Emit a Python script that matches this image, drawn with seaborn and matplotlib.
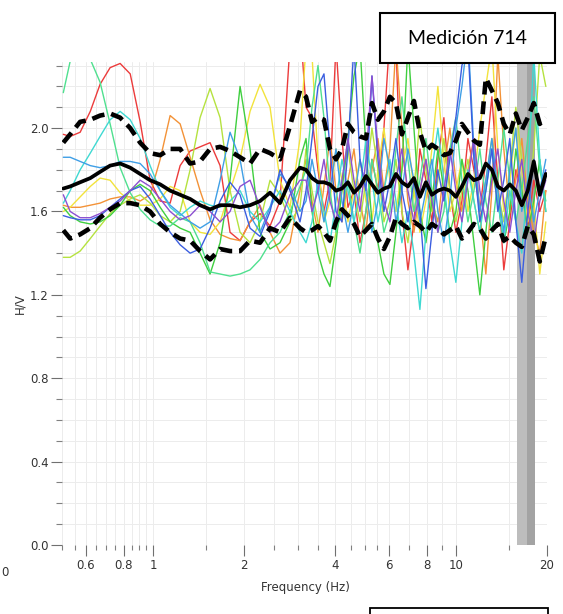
import numpy as np
import pandas as pd
import matplotlib
matplotlib.use("Agg")
import matplotlib.pyplot as plt
import seaborn as sns
from matplotlib.patches import Rectangle
from matplotlib.ticker import FixedLocator, FixedFormatter, NullFormatter

# ---------------- data ----------------
freq = [0.505, 0.532, 0.574, 0.620, 0.668, 0.721, 0.778, 0.840, 0.906, 0.977,
        1.055, 1.138, 1.228, 1.325, 1.429, 1.542, 1.664, 1.795, 1.937, 2.090,
        2.255, 2.433, 2.625, 2.832, 3.056,
        3.199, 3.348, 3.504, 3.667, 3.838, 4.018, 4.205, 4.401, 4.607, 4.822,
        5.047, 5.282, 5.528, 5.786, 6.056, 6.339, 6.634, 6.944, 7.268, 7.607,
        7.962, 8.333, 8.722, 9.129, 9.555, 10.00, 10.47, 10.96, 11.47, 12.00,
        12.56, 13.15, 13.76, 14.40, 15.07, 15.78, 16.51, 17.28, 18.09, 18.93, 19.82]

hv_red = [1.97, 1.96, 1.98, 2.08, 2.21, 2.29, 2.31, 2.26, 2.03, 1.75, 1.65, 1.64, 1.82, 1.89, 1.91, 1.93, 1.82, 1.50, 1.46, 1.55, 1.59, 1.53, 1.65, 2.40, 2.50,
          2.10, 2.05, 1.80, 1.60, 1.75, 2.40, 1.95, 1.62, 1.70, 1.45, 1.60, 1.85, 1.70, 2.00, 2.45, 2.40, 1.60, 1.32, 1.55, 1.90,
          1.75, 1.55, 1.85, 2.05, 1.70, 1.50, 1.65, 1.95, 1.80, 1.60, 1.85, 2.15, 1.75, 1.32, 1.55, 1.80, 1.70, 1.52, 1.75, 1.60, 1.70]
hv_orange = [1.63, 1.62, 1.62, 1.63, 1.64, 1.66, 1.67, 1.67, 1.65, 1.68, 1.85, 2.06, 2.02, 1.86, 1.70, 1.56, 1.49, 1.47, 1.46, 1.55, 1.63, 1.50, 1.40, 1.45, 1.70,
             1.85, 1.65, 1.50, 1.72, 1.95, 1.70, 1.55, 1.75, 1.90, 1.65, 1.50, 1.80, 1.95, 1.70, 1.90, 2.40, 2.00, 1.65, 1.50, 1.70,
             1.85, 1.65, 1.55, 1.80, 2.00, 1.75, 1.60, 1.80, 1.95, 1.60, 1.30, 1.70, 2.35, 1.90, 1.60, 1.75, 1.95, 1.65, 1.50, 1.40, 1.70]
hv_yellow = [1.60, 1.62, 1.67, 1.72, 1.76, 1.75, 1.69, 1.65, 1.63, 1.63, 1.66, 1.72, 1.70, 1.55, 1.50, 1.49, 1.55, 1.70, 1.85, 2.08, 2.21, 2.10, 1.75, 1.62, 1.95,
             2.40, 2.35, 1.85, 1.55, 1.65, 1.90, 1.75, 1.55, 1.70, 1.85, 1.65, 1.55, 1.80, 2.00, 1.75, 1.60, 1.80, 1.95, 1.70, 1.50,
             1.65, 1.90, 2.20, 1.85, 1.60, 1.70, 1.85, 1.60, 1.75, 2.00, 2.20, 2.40, 1.90, 1.60, 1.75, 2.00, 1.80, 1.55, 1.65, 1.30, 1.55]
hv_ygreen = [1.38, 1.38, 1.41, 1.47, 1.53, 1.59, 1.63, 1.66, 1.68, 1.64, 1.58, 1.55, 1.60, 1.80, 2.05, 2.19, 2.05, 1.70, 1.50, 1.45, 1.55, 1.75, 1.68, 1.55, 1.62,
             1.90, 1.70, 1.55, 1.45, 1.35, 1.50, 1.75, 1.90, 1.70, 1.55, 1.75, 2.00, 1.80, 1.55, 1.65, 1.85, 1.60, 1.45, 1.70, 2.05,
             1.80, 1.60, 1.75, 1.95, 1.70, 1.55, 1.70, 1.85, 1.65, 1.50, 1.75, 1.95, 1.70, 1.55, 1.80, 2.10, 1.85, 1.60, 1.90, 2.35, 2.20]
hv_green = [1.62, 1.58, 1.55, 1.54, 1.55, 1.58, 1.63, 1.70, 1.73, 1.70, 1.62, 1.55, 1.52, 1.50, 1.40, 1.30, 1.45, 1.75, 2.20, 1.90, 1.50, 1.42, 1.45, 1.55, 1.85,
            1.95, 1.60, 1.40, 1.30, 1.24, 1.45, 1.70, 1.95, 2.25, 2.40, 1.90, 1.55, 1.45, 1.30, 1.25, 1.50, 1.80, 2.40, 2.00, 1.60,
            1.45, 1.65, 1.90, 1.70, 1.50, 1.60, 1.85, 1.70, 1.45, 1.20, 1.50, 1.80, 1.65, 1.45, 1.60, 1.90, 1.70, 1.50, 1.65, 1.85, 1.60]
hv_mint = [2.17, 2.32, 2.42, 2.33, 2.22, 2.02, 1.81, 1.69, 1.61, 1.56, 1.53, 1.53, 1.57, 1.55, 1.45, 1.31, 1.30, 1.29, 1.30, 1.32, 1.37, 1.45, 1.50, 1.60, 1.72,
           1.80, 2.10, 2.30, 2.05, 1.70, 1.50, 1.60, 1.75, 1.55, 1.40, 1.60, 1.85, 1.70, 1.50, 1.60, 1.90, 2.15, 1.85, 1.60, 1.75,
           1.95, 1.70, 1.50, 1.60, 1.90, 2.05, 1.75, 1.55, 1.70, 1.90, 1.65, 1.50, 1.75, 2.00, 1.75, 1.55, 1.70, 1.95, 2.15, 1.80, 1.65]
hv_cyan = [1.64, 1.70, 1.80, 1.88, 1.96, 2.04, 2.08, 2.04, 1.95, 1.82, 1.70, 1.62, 1.58, 1.62, 1.65, 1.63, 1.62, 1.65, 1.70, 1.60, 1.55, 1.62, 1.70, 1.60, 1.50,
           1.45, 1.55, 1.75, 1.60, 1.45, 1.65, 1.85, 1.70, 1.55, 1.70, 1.95, 1.75, 1.55, 1.70, 1.85, 1.65, 1.45, 1.60, 1.40, 1.13,
           1.50, 1.80, 2.00, 1.75, 1.45, 1.26, 1.55, 1.80, 1.65, 1.50, 1.70, 1.90, 1.65, 1.45, 1.70, 1.55, 1.40, 1.75, 2.35, 1.85, 1.60]
hv_skyblue = [1.86, 1.86, 1.84, 1.82, 1.81, 1.82, 1.84, 1.84, 1.83, 1.78, 1.70, 1.63, 1.59, 1.55, 1.52, 1.55, 1.75, 1.98, 1.85, 1.58, 1.50, 1.62, 1.78, 1.72, 1.60,
              1.65, 1.85, 1.70, 1.55, 1.70, 1.90, 1.65, 1.50, 1.65, 1.85, 1.70, 1.50, 1.65, 1.95, 1.80, 1.55, 1.70, 1.90, 1.75, 1.55,
              1.70, 1.85, 1.60, 1.45, 1.65, 2.00, 2.20, 2.45, 1.90, 1.60, 1.75, 1.95, 1.70, 1.50, 1.80, 2.00, 1.60, 1.75, 1.55, 1.70, 1.85]
hv_blue = [1.58, 1.57, 1.56, 1.56, 1.58, 1.62, 1.66, 1.70, 1.72, 1.66, 1.58, 1.50, 1.44, 1.40, 1.42, 1.52, 1.65, 1.74, 1.68, 1.52, 1.48, 1.60, 1.80, 1.70, 1.55,
           1.70, 1.95, 2.20, 2.26, 1.90, 1.60, 1.55, 1.90, 2.40, 1.85, 1.70, 2.25, 1.85, 1.60, 1.75, 1.95, 1.70, 1.55, 1.75, 1.60,
           1.23, 1.50, 1.80, 1.65, 1.85, 2.05, 2.30, 2.40, 1.85, 1.55, 1.70, 1.90, 1.60, 1.75, 1.95, 1.55, 1.26, 1.60, 1.85, 1.70, 1.80]
hv_purple = [1.68, 1.60, 1.57, 1.57, 1.59, 1.62, 1.65, 1.70, 1.75, 1.72, 1.66, 1.60, 1.56, 1.58, 1.63, 1.60, 1.55, 1.60, 1.72, 1.75, 1.62, 1.50, 1.55, 1.68, 1.75,
             1.75, 1.60, 1.70, 1.85, 1.65, 1.55, 1.75, 1.95, 1.75, 1.60, 1.85, 2.25, 1.90, 1.65, 1.55, 1.75, 1.90, 1.70, 1.55, 1.70,
             1.85, 1.65, 1.50, 1.70, 1.90, 1.70, 1.55, 1.75, 1.95, 1.70, 1.55, 1.75, 1.90, 1.65, 1.50, 1.70, 1.85, 1.60, 1.45, 1.65, 1.75]

hv_mean = [1.71, 1.72, 1.74, 1.76, 1.79, 1.82, 1.83, 1.81, 1.78, 1.75, 1.73, 1.70, 1.68, 1.66, 1.63, 1.61, 1.63, 1.63, 1.62, 1.63, 1.65, 1.69, 1.64, 1.75, 1.81,
           1.80, 1.76, 1.74, 1.74, 1.73, 1.70, 1.71, 1.74, 1.69, 1.72, 1.77, 1.73, 1.69, 1.71, 1.72, 1.78, 1.74, 1.72, 1.76, 1.67,
           1.74, 1.68, 1.70, 1.71, 1.70, 1.67, 1.72, 1.78, 1.75, 1.76, 1.83, 1.80, 1.72, 1.70, 1.73, 1.70, 1.63, 1.70, 1.84, 1.68, 1.78]
hv_upper = [1.93, 1.97, 2.03, 2.04, 2.06, 2.07, 2.05, 2.00, 1.93, 1.88, 1.87, 1.90, 1.90, 1.83, 1.84, 1.90, 1.91, 1.89, 1.86, 1.83, 1.90, 1.88, 1.85, 2.01, 2.18,
            2.15, 2.03, 2.05, 2.04, 1.90, 1.85, 1.90, 2.02, 1.98, 1.96, 1.95, 2.12, 2.04, 2.08, 2.15, 2.12, 1.97, 2.05, 2.13, 1.98,
            1.89, 1.92, 1.90, 1.87, 1.88, 1.94, 2.02, 1.98, 1.94, 1.92, 2.24, 2.18, 2.12, 2.02, 1.97, 2.07, 1.99, 2.05, 2.12, 2.02, 2.05]
hv_lower = [1.51, 1.47, 1.49, 1.52, 1.57, 1.61, 1.64, 1.64, 1.63, 1.60, 1.54, 1.50, 1.47, 1.46, 1.41, 1.37, 1.42, 1.41, 1.41, 1.46, 1.45, 1.52, 1.50, 1.57, 1.52,
            1.50, 1.51, 1.53, 1.50, 1.46, 1.55, 1.61, 1.58, 1.54, 1.48, 1.51, 1.54, 1.47, 1.42, 1.48, 1.57, 1.54, 1.52, 1.55, 1.53,
            1.50, 1.54, 1.52, 1.49, 1.51, 1.53, 1.47, 1.50, 1.54, 1.52, 1.47, 1.51, 1.54, 1.46, 1.48, 1.45, 1.43, 1.53, 1.49, 1.36, 1.48]

windows = {"red": hv_red, "orange": hv_orange, "yellow": hv_yellow, "ygreen": hv_ygreen,
           "green": hv_green, "mint": hv_mint, "cyan": hv_cyan, "skyblue": hv_skyblue,
           "blue": hv_blue, "purple": hv_purple}
window_colors = {"red": "#ec3b3b", "orange": "#f39237", "yellow": "#f2e33c", "ygreen": "#b5e23f",
                 "green": "#3fcf3f", "mint": "#4fe08f", "cyan": "#3fd9d2", "skyblue": "#3f9fe6",
                 "blue": "#3b5ee0", "purple": "#8c4fd0"}

peak_band_light = (15.9, 17.2)
peak_band_dark = (17.2, 18.2)

x_major = [0.6, 0.8, 1, 2, 4, 6, 8, 10, 20]
x_major_labels = ["0.6", "0.8", "1", "2", "4", "6", "8", "10", "20"]
x_minor = [0.5, 0.55, 0.65, 0.7, 0.75, 0.85, 0.9, 0.95, 1.5, 2.5, 3, 3.5, 4.5, 5, 5.5,
           7, 9, 15]
y_major = [0.0, 0.4, 0.8, 1.2, 1.6, 2.0]
y_major_labels = ["0.0", "0.4", "0.8", "1.2", "1.6", "2.0"]
y_minor = [0.1, 0.2, 0.3, 0.5, 0.6, 0.7, 0.9, 1.0, 1.1, 1.3, 1.4, 1.5, 1.7, 1.8, 1.9, 2.1, 2.2, 2.3]

# ---------------- figure ----------------
sns.set_theme(style="white")
plt.rcParams['font.family'] = ['DejaVu Sans']

W, H = 563, 614
fig = plt.figure(figsize=(W / 100, H / 100), dpi=100)
ax = fig.add_axes([62 / W, 1 - 545 / H, (547 - 62) / W, (545 - 62) / H])

long = pd.DataFrame([(name, f, v) for name, vals in windows.items() for f, v in zip(freq, vals)],
                    columns=["window", "freq", "hv"])

ax.axvspan(*peak_band_light, color="#bdbdbd", lw=0, zorder=1)
ax.axvspan(*peak_band_dark, color="#a3a3a3", lw=0, zorder=1)

sns.lineplot(data=long, x="freq", y="hv", hue="window", palette=window_colors,
             estimator=None, sort=False, lw=1.0, legend=False, ax=ax, zorder=2)
sns.lineplot(x=freq, y=hv_mean, color="black", lw=2.7, estimator=None, sort=False, ax=ax, zorder=4)
for band in (hv_upper, hv_lower):
    sns.lineplot(x=freq, y=band, color="black", lw=3.3, linestyle=(0, (2.8, 1.5)),
                 estimator=None, sort=False, ax=ax, zorder=4)

ax.set_xscale("log")
ax.set_xlim(0.5, 20)
ax.set_ylim(0, 2.317)

ax.xaxis.set_major_locator(FixedLocator(x_major))
ax.xaxis.set_major_formatter(FixedFormatter(x_major_labels))
ax.xaxis.set_minor_locator(FixedLocator(x_minor))
ax.xaxis.set_minor_formatter(NullFormatter())
ax.yaxis.set_major_locator(FixedLocator(y_major))
ax.yaxis.set_major_formatter(FixedFormatter(y_major_labels))
ax.yaxis.set_minor_locator(FixedLocator(y_minor))

ax.tick_params(axis="x", which="major", bottom=True, length=8, width=0.8, color="#707070",
               pad=2, labelsize=8.5, labelcolor="#333333")
ax.tick_params(axis="x", which="minor", bottom=True, length=3.5, width=0.8, color="#808080")
ax.tick_params(axis="y", which="major", left=True, length=8, width=0.8, color="#707070",
               pad=1.5, labelsize=8.5, labelcolor="#333333")
ax.tick_params(axis="y", which="minor", left=True, length=4.5, width=0.8, color="#808080")

ax.grid(True, which="both", color="#ececec", lw=0.7)
ax.set_axisbelow(True)
for s in ax.spines.values():
    s.set_visible(False)
ax.set_xlabel("")
ax.set_ylabel("")

fig.text(305 / W, 1 - 587 / H, "Frequency (Hz)", ha="center", va="center", fontsize=8.5, color="#333333")
fig.text(20 / W, 1 - 304 / H, "H/V", ha="center", va="center", rotation=90, fontsize=8.5, color="#333333")
fig.text(1 / W, 1 - 572 / H, "0", ha="left", va="center", fontsize=8.5, color="#333333")

fig.patches.append(Rectangle((380 / W, 1 - 63 / H), 175 / W, 50 / H, transform=fig.transFigure,
                             facecolor="white", edgecolor="black", lw=1.5, zorder=10))
fig.text(467.5 / W, 1 - 38 / H, "Medición 714", ha="center", va="center", fontsize=14,
         family=["Lato", "DejaVu Sans"], color="black", zorder=11)
fig.patches.append(Rectangle((370 / W, -0.05), 178 / W, 0.05 + 6 / H, transform=fig.transFigure,
                             facecolor="white", edgecolor="black", lw=1.3, zorder=10))

fig.savefig("out.png", dpi=100)
